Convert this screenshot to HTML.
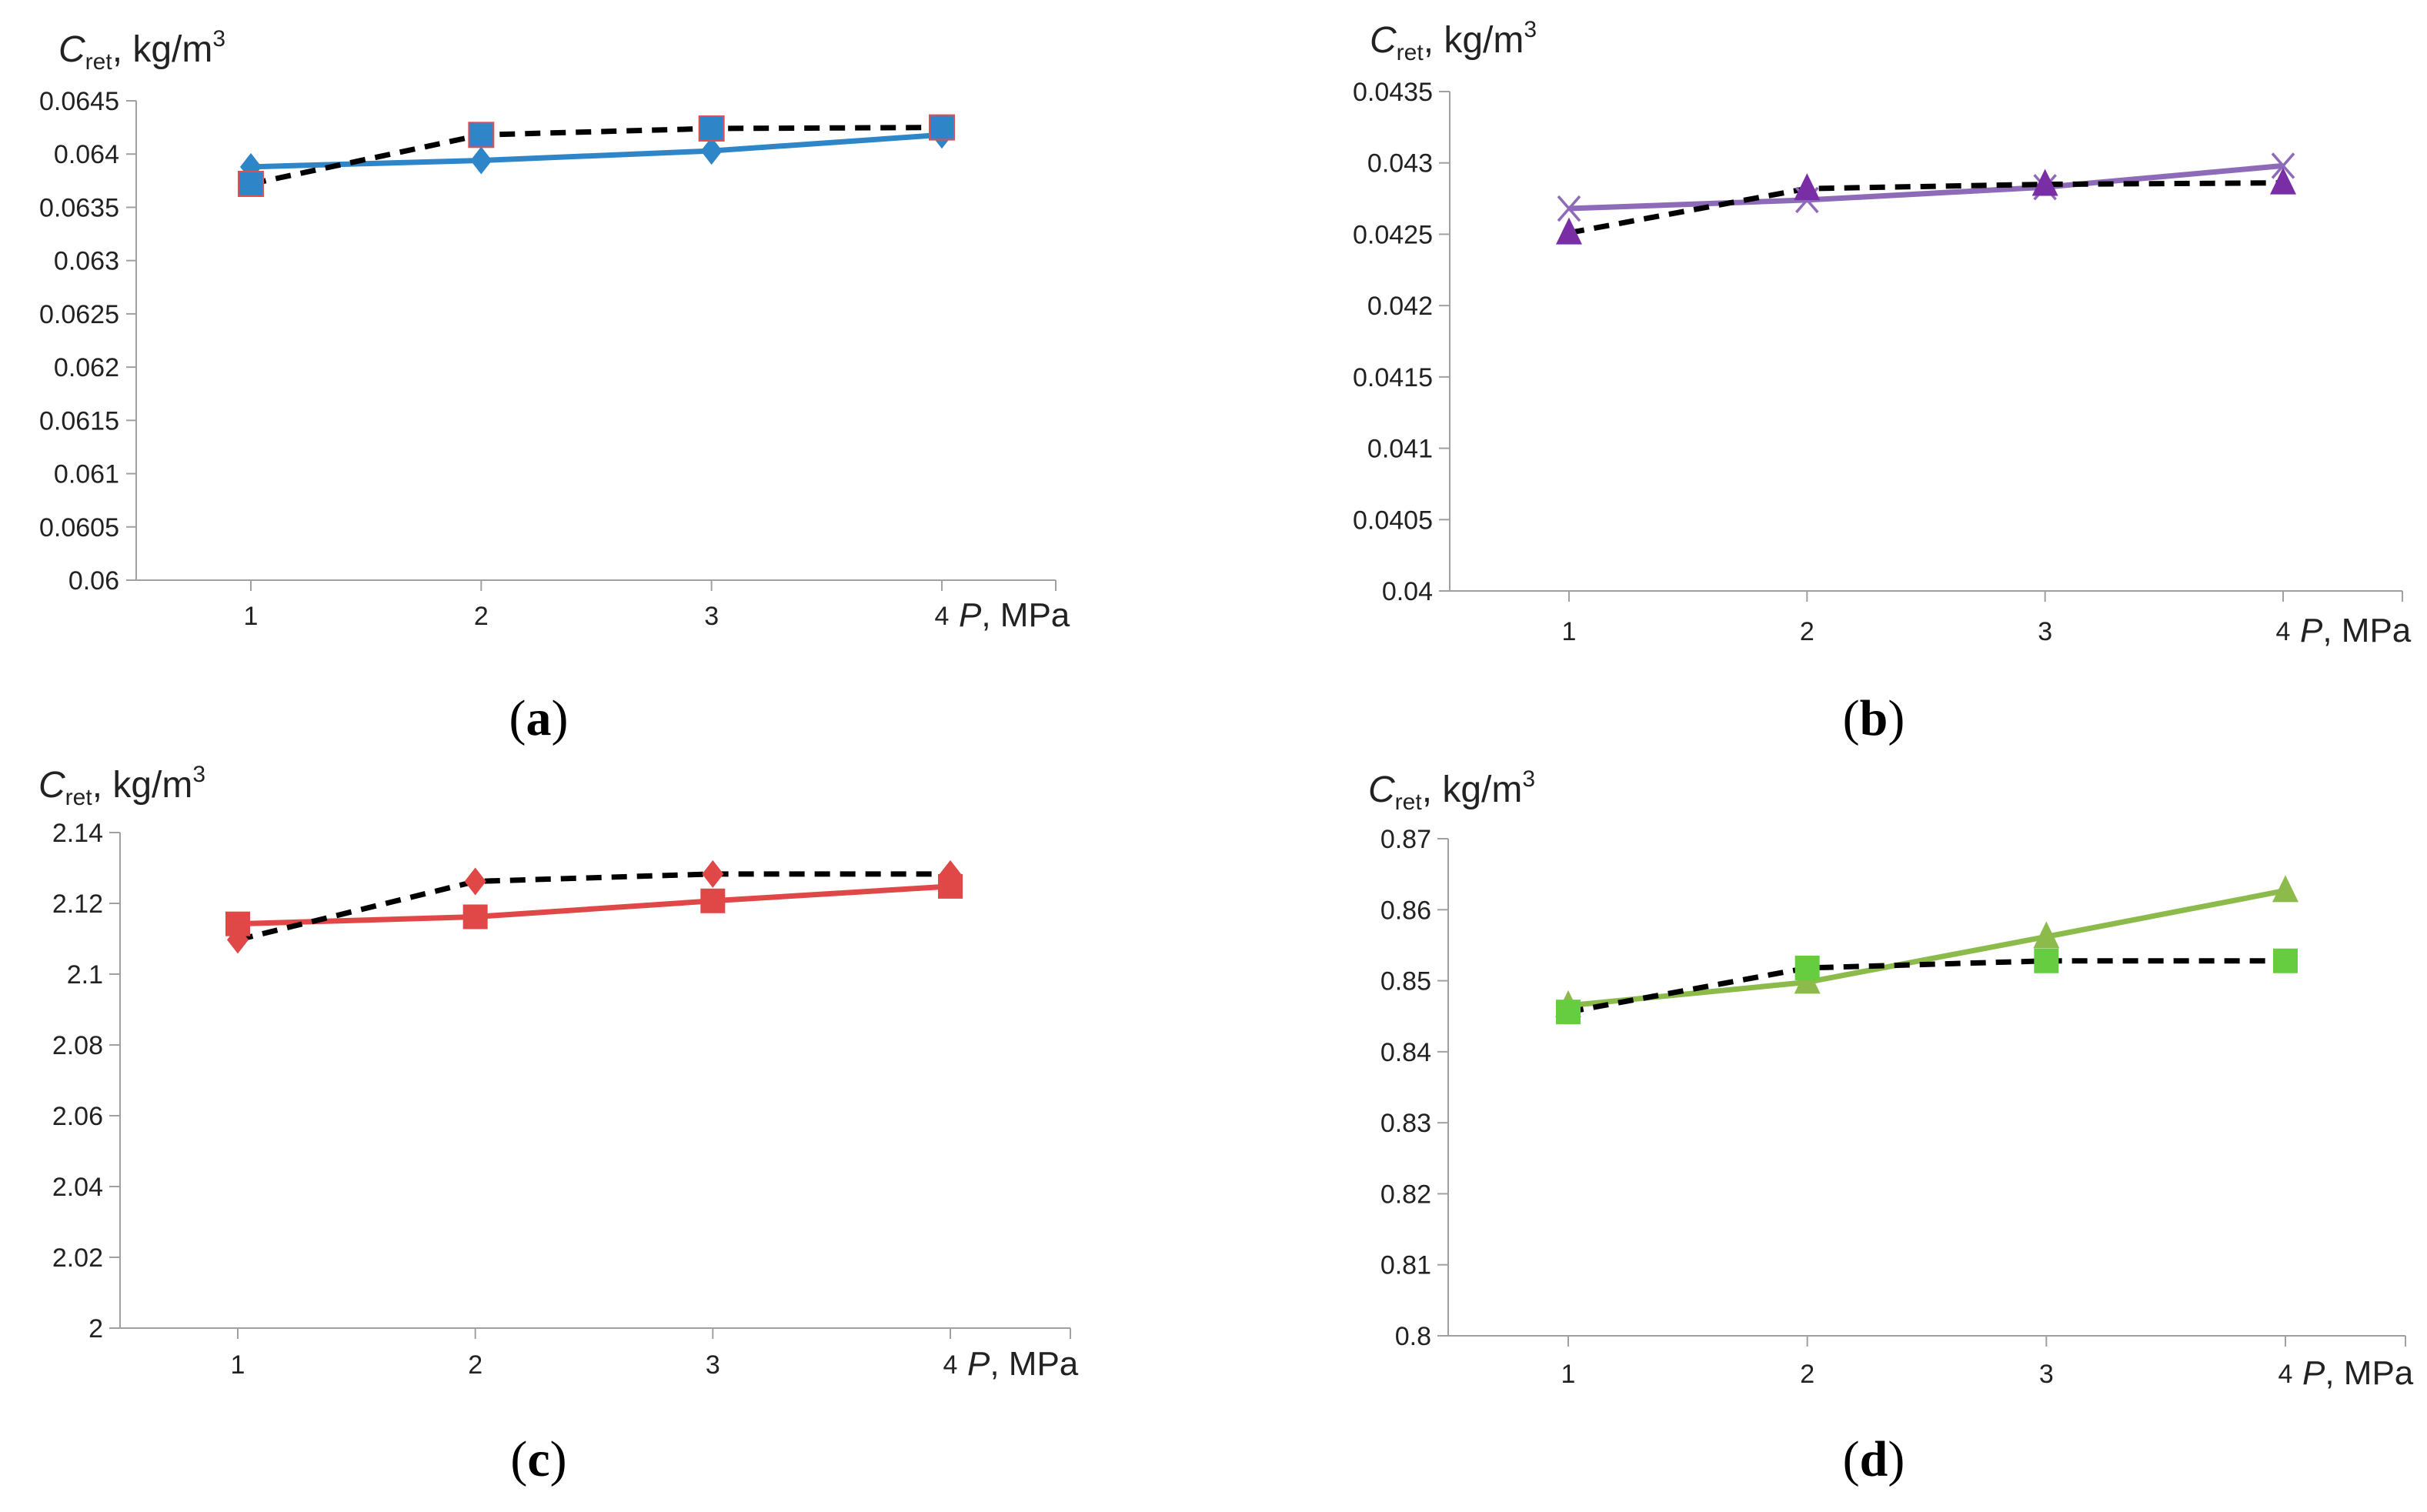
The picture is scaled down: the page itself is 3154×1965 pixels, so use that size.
<!DOCTYPE html>
<html><head><meta charset="utf-8">
<style>
html,body{margin:0;padding:0;background:#fff;}
svg{display:block;}
text{font-family:"Liberation Sans",sans-serif;}
</style></head>
<body>
<svg id="fig" width="3154" height="1965" viewBox="0 0 3154 1965" xmlns="http://www.w3.org/2000/svg"></svg>
<script>
const categories = [1, 2, 3, 4];
const aTicks = ["0.06","0.0605","0.061","0.0615","0.062","0.0625","0.063","0.0635","0.064","0.0645"];
const aSolid = [0.06388, 0.06394, 0.06403, 0.06418];
const aDashed = [0.06372, 0.06418, 0.06424, 0.06425];
const bTicks = ["0.04","0.0405","0.041","0.0415","0.042","0.0425","0.043","0.0435"];
const bSolid = [0.04268, 0.04274, 0.04283, 0.04298];
const bDashed = [0.04251, 0.04282, 0.04285, 0.04286];
const cTicks = ["2","2.02","2.04","2.06","2.08","2.1","2.12","2.14"];
const cSolid = [2.1142, 2.1162, 2.1207, 2.1248];
const cDashed = [2.1097, 2.1262, 2.1283, 2.1283];
const dTicks = ["0.8","0.81","0.82","0.83","0.84","0.85","0.86","0.87"];
const dSolid = [0.8465, 0.8498, 0.8562, 0.8627];
const dDashed = [0.8456, 0.8518, 0.8528, 0.8528];

const NS = "http://www.w3.org/2000/svg";
const svg = document.getElementById("fig");
function el(tag, attrs, parent){
  const e = document.createElementNS(NS, tag);
  for (const k in attrs) e.setAttribute(k, attrs[k]);
  (parent||svg).appendChild(e);
  return e;
}

const panels = [
  {id:"a", ax:177, x0:164, xEnd:1372, xs:[326,1224], yTop:131, yBot:754, ticks:aTicks, solid:aSolid, dashed:aDashed,
   solidColor:"#2e86c9", solidMarker:"diamond", solidMarkerColor:"#2e86c9", dashMarker:"square", dashMarkerColor:"#2e86c9", dashStroke:"#e05050",
   titleX:76, titleY:80, xlabY:812, capX:700, capY:955},
  {id:"b", ax:1884, x0:1870, xEnd:3122, xs:[2039,2967], yTop:119, yBot:768, ticks:bTicks, solid:bSolid, dashed:bDashed,
   solidColor:"#8e6bb8", solidMarker:"x", solidMarkerColor:"#8e6bb8", dashMarker:"triangle", dashMarkerColor:"#7a2ea6", dashStroke:"none",
   titleX:1780, titleY:68, xlabY:832, capX:2435, capY:955},
  {id:"c", ax:156, x0:142, xEnd:1391, xs:[309,1235], yTop:1082, yBot:1726, ticks:cTicks, solid:cSolid, dashed:cDashed,
   solidColor:"#e04848", solidMarker:"square", solidMarkerColor:"#e04848", dashMarker:"diamond", dashMarkerColor:"#e04848", dashStroke:"none",
   titleX:50, titleY:1036, xlabY:1785, capX:700, capY:1918},
  {id:"d", ax:1882, x0:1868, xEnd:3126, xs:[2038,2970], yTop:1090, yBot:1736, ticks:dTicks, solid:dSolid, dashed:dDashed,
   solidColor:"#8cbb4c", solidMarker:"triangle", solidMarkerColor:"#8cbb4c", dashMarker:"square", dashMarkerColor:"#66cc40", dashStroke:"none",
   titleX:1778, titleY:1042, xlabY:1797, capX:2435, capY:1918}
];

function marker(g, type, x, y, color, stroke){
  let m;
  if (type==="square") m = el("rect",{x:x-16,y:y-16,width:32,height:32,fill:color,stroke:stroke,"stroke-width":stroke==="none"?0:2},g);
  else if (type==="diamond") m = el("polygon",{points:`${x},${y-18} ${x+14},${y} ${x},${y+18} ${x-14},${y}`,fill:color},g);
  else if (type==="triangle") m = el("polygon",{points:`${x},${y-20} ${x+17},${y+15} ${x-17},${y+15}`,fill:color},g);
  else { m = el("path",{d:`M${x-14},${y-16}L${x+14},${y+16}M${x+14},${y-16}L${x-14},${y+16}`,stroke:color,"stroke-width":3.5,fill:"none"},g); }
  return m;
}

panels.forEach(p=>{
  const g = el("g",{});
  
  
  const vMin = parseFloat(p.ticks[0]), vMax = parseFloat(p.ticks[p.ticks.length-1]);
  const yS = v => p.yBot - (v - vMin)/(vMax - vMin)*(p.yBot - p.yTop);
  const xS = c => p.xs[0] + (c - categories[0])/(categories[categories.length-1]-categories[0])*(p.xs[1]-p.xs[0]);
  const yAxis = el("line",{x1:p.ax,y1:p.yTop,x2:p.ax,y2:p.yBot,stroke:"#a0a0a0","stroke-width":2},g);
  
  
  const xAxis = el("line",{x1:p.x0,y1:p.yBot,x2:p.xEnd,y2:p.yBot,stroke:"#a0a0a0","stroke-width":2},g);
  
  
  p.ticks.forEach(t=>{
    const y = yS(parseFloat(t));
    el("line",{x1:p.x0,y1:y,x2:p.ax,y2:y,stroke:"#a0a0a0","stroke-width":2},g);
    const tx = el("text",{x:p.ax-22,y:y+12,"font-size":34,"text-anchor":"end",fill:"#222"},g);
    tx.textContent = t;
    
    
  });
  categories.forEach(c=>{
    const x = xS(c);
    el("line",{x1:x,y1:p.yBot,x2:x,y2:p.yBot+14,stroke:"#a0a0a0","stroke-width":2},g);
    const tx = el("text",{x:x,y:p.xlabY,"font-size":34,"text-anchor":"middle",fill:"#222"},g);
    tx.textContent = c;
    
    
  });
  el("line",{x1:p.xEnd,y1:p.yBot,x2:p.xEnd,y2:p.yBot+14,stroke:"#a0a0a0","stroke-width":2},g);
  const xt = el("text",{x:xS(4)+22,y:p.xlabY+2,"font-size":44,fill:"#222"},g);
  xt.innerHTML = '<tspan font-style="italic">P</tspan>, MPa';
  
  
  const yt = el("text",{x:p.titleX,y:p.titleY,"font-size":48,fill:"#222"},g);
  yt.innerHTML = '<tspan font-style="italic">C</tspan><tspan font-size="30" dy="10">ret</tspan><tspan dy="-10">, kg/m</tspan><tspan font-size="30" dy="-20">3</tspan>';
  
  
  const sl = el("polyline",{points:categories.map((c,i)=>xS(c)+","+yS(p.solid[i])).join(" "),fill:"none",stroke:p.solidColor,"stroke-width":7,"stroke-linejoin":"round"},g);
  
  
  const dl = el("polyline",{points:categories.map((c,i)=>xS(c)+","+yS(p.dashed[i])).join(" "),fill:"none",stroke:"#000","stroke-width":7,"stroke-dasharray":"20 13"},g);
  
  
  categories.forEach((c,i)=>{
    const m1 = marker(g,p.solidMarker,xS(c),yS(p.solid[i]),p.solidMarkerColor,"none");
    
    
  });
  categories.forEach((c,i)=>{
    const m2 = marker(g,p.dashMarker,xS(c),yS(p.dashed[i]),p.dashMarkerColor,p.dashStroke);
    
    
  });
  const cap = el("text",{x:p.capX,y:p.capY,"font-size":66,"text-anchor":"middle",fill:"#000",style:"font-family:'Liberation Serif',serif"},g);
  cap.innerHTML = '(<tspan font-weight="bold">'+p.id+'</tspan>)';
  
  
});
</script>
</body></html>
